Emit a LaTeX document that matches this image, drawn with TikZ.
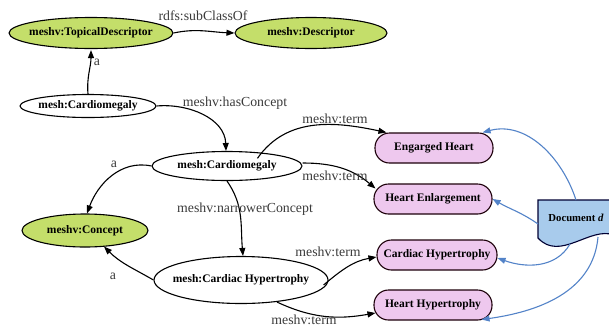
\documentclass[tikz,border=0pt]{standalone}
\usepackage{fontspec}
\setmainfont{Liberation Serif}
\usetikzlibrary{shapes.geometric,arrows.meta,calc}

\definecolor{classgreen}{HTML}{C4DE6A}
\definecolor{termpink}{HTML}{EEC8EE}
\definecolor{docblue}{HTML}{A8CBEC}
\definecolor{linkblue}{HTML}{5383C8}
\definecolor{labelgray}{HTML}{3A3A3A}

\tikzset{
  conceptnode/.style={ellipse, draw=black, line width=1.1pt, inner sep=-40pt,
    font=\fontsize{11.5}{13}\selectfont\bfseries},
  classnode/.style={conceptnode, fill=classgreen},
  termnode/.style={rectangle, rounded corners=14.5pt, draw=black!85!purple,
    line width=1.1pt, fill=termpink, minimum width=118pt, minimum height=30pt,
    inner sep=0pt, font=\fontsize{11.5}{13}\selectfont\bfseries},
  rel/.style={draw=black, line width=1.1pt,
    -{Triangle[length=8pt,width=6pt]}},
  occurs/.style={draw=linkblue, line width=1.1pt,
    -{Triangle[length=8pt,width=6pt]}},
  lbl/.style={font=\fontsize{13.8}{15}\selectfont, text=labelgray, inner sep=1pt},
  docshape/.style={black!80!blue, line width=1.1pt}
}

\begin{document}
\begin{tikzpicture}[x=1pt,y=1pt]
\useasboundingbox (0,0) rectangle (609,-327);

% classes
\node[classnode, minimum width=164pt, minimum height=31pt] (td) at (91,-33) {meshv:TopicalDescriptor};
\node[classnode, minimum width=152pt, minimum height=31pt] (desc) at (311,-33) {meshv:Descriptor};
\node[classnode, minimum width=126pt, minimum height=33pt] (concept) at (85,-230.5) {meshv:Concept};

% descriptor and concepts
\node[conceptnode, minimum width=136pt, minimum height=23pt] (cardD) at (88,-106) {mesh:Cardiomegaly};
\node[conceptnode, minimum width=150pt, minimum height=29pt] (cardC) at (227,-166) {mesh:Cardiomegaly};
\node[conceptnode, minimum width=174pt, minimum height=47pt] (hyp) at (241,-280) {mesh:Cardiac Hypertrophy};

% terms
\node[termnode] (eh) at (434,-148) {Engarged Heart};
\node[termnode] (he) at (433,-199) {Heart Enlargement};
\node[termnode, minimum width=120pt] (ch) at (437,-255) {Cardiac Hypertrophy};
\node[termnode] (hh) at (433,-305) {Heart Hypertrophy};

% document with a wavy lower edge
\coordinate (dTL) at (538,-200);
\coordinate (dTR) at (614,-200);
\coordinate (dBL) at (538,-238);
\coordinate (dBR) at (614,-235);
\fill[docblue] (dTL) -- (dTR) -- (dBR) .. controls (590,-226) and (560,-262) .. (dBL) -- cycle;
\draw[docshape] (dBR) .. controls (590,-226) and (560,-262) .. (dBL) -- (dTL) -- (dTR);
\node[inner sep=0pt, font=\fontsize{10.7}{12}\selectfont\bfseries] (doc) at (576,-218) {Document \textit{d}};
\coordinate (docT) at (576,-200);
\coordinate (docL) at (538,-224);
\coordinate (docB) at (570,-244);
\coordinate (docBR) at (598,-237);

% class links
\draw[rel] (td.east) to[out=12,in=178] (desc.west);
\node[lbl] at (203,-16) {rdfs:subClassOf};
\draw[rel] (cardD.north) to[out=95,in=-90] ($(td.south)+(0,-1)$);
\node[lbl] at (97,-62) {a};

\draw[rel] (cardD.east) to[out=5,in=92] ($(cardC.north)+(-1,0)$);
\node[lbl] at (235,-103) {meshv:hasConcept};

\draw[rel] (cardC.west) to[out=168,in=70] ($(concept.north)+(2,0)$);
\node[lbl] at (114,-164) {a};
\draw[rel] (hyp.west) to[out=150,in=-45] ($(concept.south)+(19,1)$);
\node[lbl] at (113,-276) {a};

\draw[rel] (cardC.south) to[out=-55,in=95] ($(hyp.north)+(2,0)$);
\node[lbl] at (245,-209) {meshv:narrowerConcept};

% term links
\draw[rel] ($(cardC.north east)+(-23,-3)$) to[out=55,in=168] ($(eh.north west)+(12,0)$);
\node[lbl] at (335,-119) {meshv:term};
\draw[rel] ($(cardC.east)+(0,3)$) to[out=0,in=140] ($(he.north west)+(2,-5)$);
\node[lbl] at (335,-176) {meshv:term};
\draw[rel] ($(hyp.east)+(-5,-5)$) to[out=40,in=190] ($(ch.west)+(0,-2)$);
\node[lbl] at (328,-252) {meshv:term};
\draw[rel] ($(hyp.south)+(36,2)$) to[out=-25,in=190] ($(hh.west)+(2,-8)$);
\node[lbl] at (304,-320) {meshv:term};

% occurrences in the document
\draw[occurs] (docT) to[out=108,in=15] ($(eh.north east)+(-11,0)$);
\draw[occurs] (docL) to[out=145,in=-30] (he.east);
\draw[occurs] (docB) to[out=-120,in=-20] ($(ch.east)+(0,-3)$);
\draw[occurs] (docBR) to[out=-95,in=8] ($(hh.south east)+(-11,1)$);
\end{tikzpicture}
\end{document}
